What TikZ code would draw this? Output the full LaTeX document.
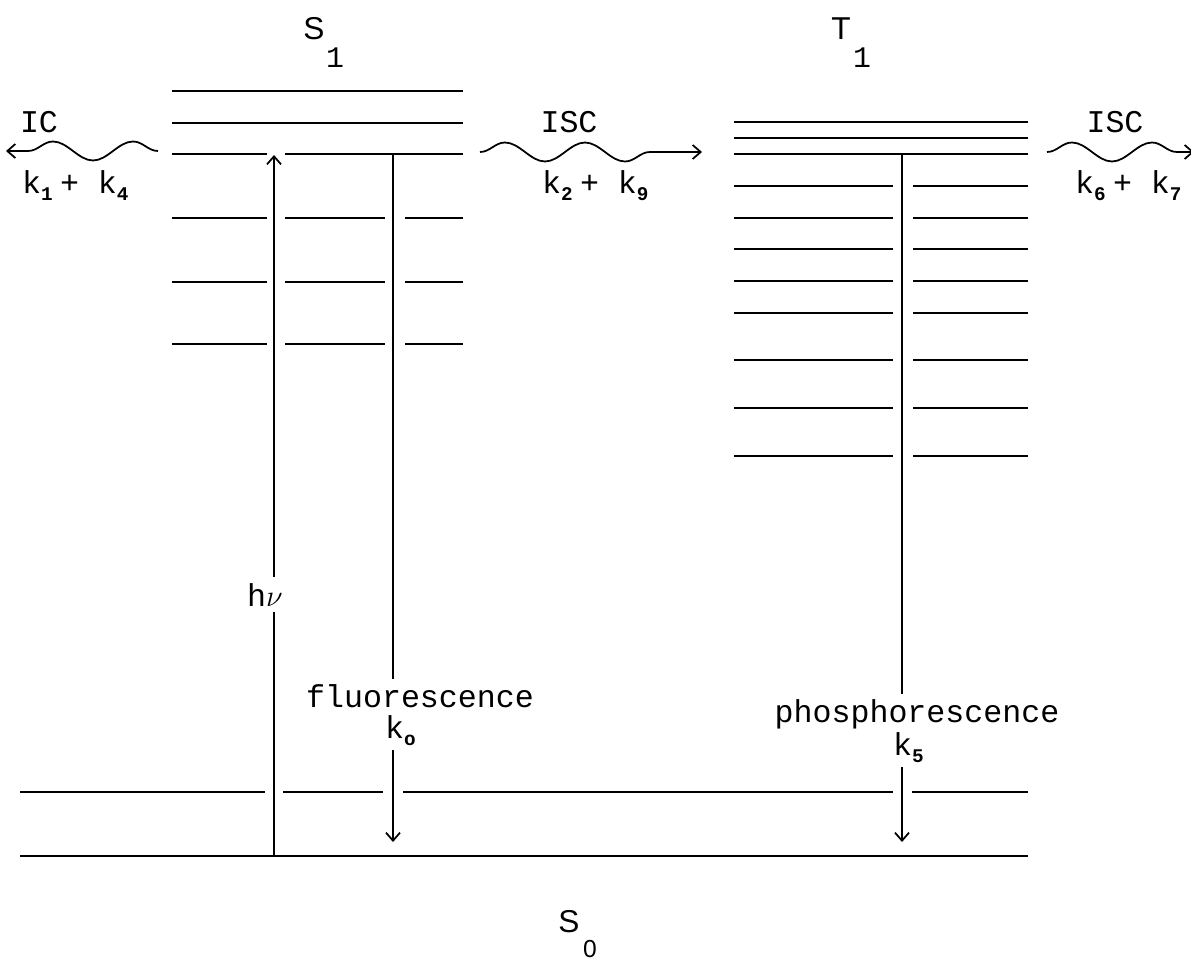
\documentclass[tikz,border=0pt]{standalone}
\usepackage{fontspec}
\setmainfont{Liberation Mono}
\setsansfont{Liberation Sans}
\usetikzlibrary{arrows.meta, decorations.pathmorphing}
\newcommand{\kidx}[1]{k\raisebox{-4pt}{\makebox[0.6em][l]{\fontsize{11}{11}\selectfont\bfseries #1}}}
\tikzset{
  jablvl/.style   = {line width=1pt},
  jabarr/.style   = {line width=1pt,
                     -{Straight Barb[length=1.6mm, width=2.8mm]}},
  jabwave/.style  = {jabarr, decorate,
                     decoration={snake, segment length=1.6cm,
                                 amplitude=0.19cm, post length=#1}},
  jabtxt/.style   = {font=\fontsize{18}{21}\selectfont, inner sep=2pt,
                     anchor=base},
  jabcut/.style   = {jabtxt, fill=white, inner ysep=3pt},
  jabstate/.style = {font=\sffamily\fontsize{18}{21}\selectfont,
                     inner sep=0pt, anchor=base},
  jabidx/.style   = {font=\fontsize{17}{20}\selectfont,
                     inner sep=0pt, anchor=base},
}
\begin{document}
\begin{tikzpicture}[x=0.02cm, y=-0.02cm]
  \useasboundingbox (0,0) rectangle (1191,960);
  % levels of S1
  \foreach \yy in {91,123}
    \draw[jablvl] (172,\yy) -- (463,\yy);
  \draw[jablvl] (172,154) -- (267,154) (285,154) -- (463,154);
  \foreach \yy in {218,282,344}
    \draw[jablvl] (172,\yy) -- (267,\yy) (285,\yy) -- (385,\yy)
                  (405,\yy) -- (463,\yy);
  % levels of T1
  \foreach \yy in {122,138,154}
    \draw[jablvl] (734,\yy) -- (1028,\yy);
  \foreach \yy in {186,218,249,281,313,360,408,456}
    \draw[jablvl] (734,\yy) -- (893,\yy) (913,\yy) -- (1028,\yy);
  % levels of S0
  \draw[jablvl] (20,792) -- (265,792) (283,792) -- (383,792)
                (403,792) -- (893,792) (912,792) -- (1028,792);
  \draw[jablvl] (20,856) -- (1028,856);

  % state names
  \node[jabstate] (s1) at (314,39) {S};
  \node[jabidx] (s1i) at (335,68) {1};
  \node[jabstate] (t1) at (841,39) {T};
  \node[jabidx] (t1i) at (862,68) {1};
  \node[jabstate] (s0) at (569,932) {S};
  \node[jabstate, font=\sffamily\fontsize{14}{16}\selectfont]
       (s0i) at (590,957) {0};

  % absorption and emission
  \coordinate (hvlo) at (274,856);
  \coordinate (hvhi) at (274,155);
  \coordinate (flhi) at (393,154);
  \coordinate (fllo) at (393,842);
  \coordinate (phhi) at (902,154);
  \coordinate (phlo) at (902,842);
  \draw[jabarr] (hvlo) -- (hvhi);
  \draw[jabarr] (flhi) -- (fllo);
  \draw[jabarr] (phhi) -- (phlo);
  \node[jabcut, minimum height=0.7cm] (hv) at (265,606) {h$\nu$};
  \node[jabcut] (fltxt) at (420,707) {fluorescence};
  \node[jabcut] (flk) at (404,738) {\kidx{o}};
  \node[jabcut] (phtxt) at (917,722) {phosphorescence};
  \node[jabcut] (phk) at (912,755) {\kidx{5}};

  % radiationless steps
  \coordinate (icfrom) at (158,151);
  \coordinate (icto) at (6,151);
  \coordinate (iscafrom) at (480,152);
  \coordinate (iscato) at (702,152);
  \coordinate (iscbfrom) at (1047,152);
  \coordinate (iscbto) at (1194,152);
  \draw[jabwave=2mm, decoration={mirror}] (icfrom) -- (icto);
  \draw[jabwave=8mm] (iscafrom) -- (iscato);
  \draw[jabwave=1mm] (iscbfrom) -- (iscbto);
  \node[jabtxt] (ic) at (39,132) {IC};
  \node[jabtxt] (ick) at (79,193) {\kidx{1}+ \kidx{4}};
  \node[jabtxt] (isca) at (569,132) {ISC};
  \node[jabtxt] (iscak) at (599,193) {\kidx{2}+ \kidx{9}};
  \node[jabtxt] (iscb) at (1115,132) {ISC};
  \node[jabtxt] (iscbk) at (1132,193) {\kidx{6}+ \kidx{7}};
\end{tikzpicture}
\end{document}
